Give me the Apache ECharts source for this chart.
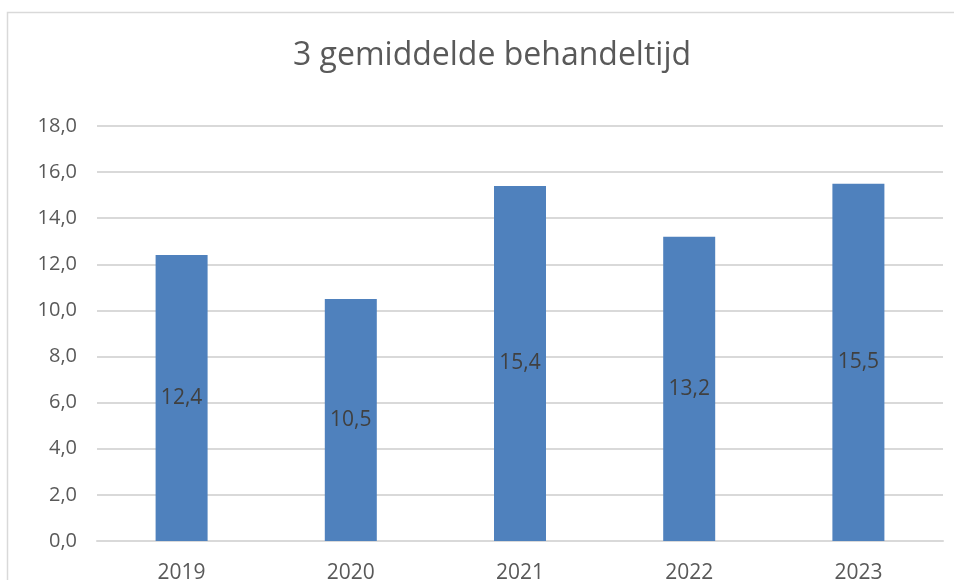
<!DOCTYPE html>
<html><head><meta charset="utf-8">
<script src="https://cdn.jsdelivr.net/npm/echarts@6/dist/echarts.min.js"></script>
<style>html,body{margin:0;padding:0;background:#fff}#c{width:954px;height:580px}</style>
</head><body><div id="c"></div>
<script>
const categories = ['2019','2020','2021','2022','2023'];
const values = [12.4, 10.5, 15.4, 13.2, 15.5];
const yTicks = { min: 0, max: 18, interval: 2 };
const titleText = '3 gemiddelde behandeltijd';

const fmt = v => Number(v).toFixed(1).replace('.', ',');
const FF = 'Open Sans';
const chart = echarts.init(document.getElementById('c'));
chart.setOption({
  animation: false,
  backgroundColor: '#fff',
  textStyle: { fontFamily: FF },
  graphic: [{ type: 'rect', shape: { x: 7.5, y: 12.5, width: 960, height: 600 }, style: { fill: 'none', stroke: '#d9d9d9', lineWidth: 1.5 }, z: -1 }],
  title: { text: titleText, left: 288, top: 35, textStyle: { fontFamily: FF, fontWeight: 'normal', fontSize: 32, color: '#595959' } },
  grid: { left: 97, right: 11, top: 126, bottom: 39, containLabel: false, outerBoundsMode: 'none' },
  xAxis: {
    type: 'category', data: categories,
    axisLine: { lineStyle: { color: '#d9d9d9', width: 2 } },
    axisTick: { show: false },
    axisLabel: { color: '#595959', fontSize: 21, margin: 22 }
  },
  yAxis: {
    type: 'value', min: yTicks.min, max: yTicks.max, interval: yTicks.interval,
    axisLine: { show: false }, axisTick: { show: false },
    axisLabel: { color: '#595959', fontSize: 20, margin: 20, formatter: fmt },
    splitLine: { lineStyle: { color: '#d9d9d9', width: 2 } }
  },
  series: [{
    type: 'bar', data: values, barWidth: 52,
    itemStyle: { color: '#4F81BD' },
    label: { show: true, position: 'inside', color: '#404040', fontSize: 21, formatter: p => fmt(p.value) }
  }]
});
</script></body></html>
